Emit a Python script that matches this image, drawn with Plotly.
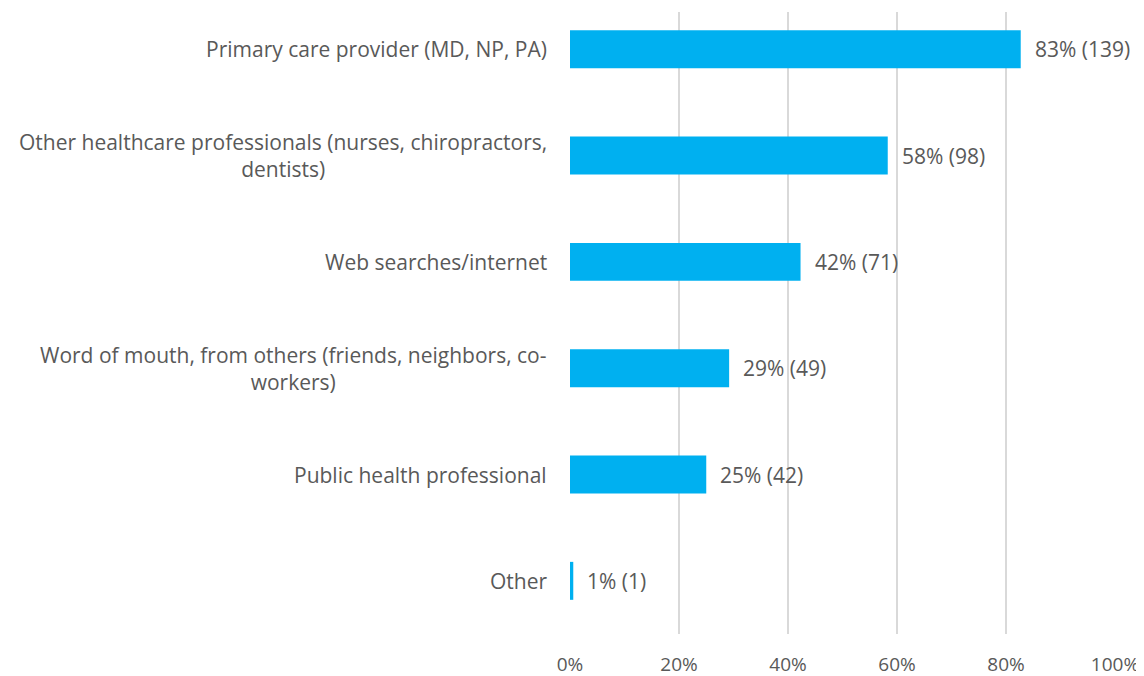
import plotly.graph_objects as go

categories = [
    "Primary care provider (MD, NP, PA)",
    "Other healthcare professionals (nurses, chiropractors,<br>dentists)",
    "Web searches/internet",
    "Word of mouth, from others (friends, neighbors, co-<br>workers)",
    "Public health professional",
    "Other",
]
values = [82.7, 58.3, 42.3, 29.2, 25.0, 0.6]
pct_labels = ["83%", "58%", "42%", "29%", "25%", "1%"]
counts = [139, 98, 71, 49, 42, 1]
x_ticks = [0, 20, 40, 60, 80, 100]
x_tick_labels = ["0%", "20%", "40%", "60%", "80%", "100%"]

FONT = "Open Sans"
GRAY = "#595959"
idx = list(range(len(categories)))

fig = go.Figure()
fig.add_trace(go.Bar(
    x=values, y=idx, orientation="h",
    marker=dict(color="#00B0F0", line=dict(width=0)),
    width=0.357, hoverinfo="skip",
))

for i, (v, p, c) in enumerate(zip(values, pct_labels, counts)):
    fig.add_annotation(x=v, y=i, xref="x", yref="y", text=f"{p} ({c})",
                       showarrow=False, xanchor="left", xshift=12,
                       font=dict(family=FONT, size=21, color=GRAY))

for i, cat in enumerate(categories):
    fig.add_annotation(x=0, y=i, xref="x", yref="y", text=cat,
                       showarrow=False, xanchor="right", align="center",
                       xshift=-21,
                       font=dict(family=FONT, size=21, color=GRAY))

fig.update_layout(
    width=1136, height=668,
    margin=dict(l=562, r=29, t=4, b=42, autoexpand=False),
    plot_bgcolor="white", paper_bgcolor="white",
    showlegend=False,
    xaxis=dict(range=[0, 100], tickvals=x_ticks, ticktext=x_tick_labels,
               showgrid=True, gridcolor="#D9D9D9", gridwidth=2,
               zeroline=False, showline=False, ticks="",
               ticklabelstandoff=17, automargin=False,
               tickfont=dict(family=FONT, size=19, color=GRAY)),
    yaxis=dict(range=[5.5, -0.35], showticklabels=False, showgrid=False,
               zeroline=False, showline=False, ticks="", automargin=False),
)

fig.write_html("out.html")
